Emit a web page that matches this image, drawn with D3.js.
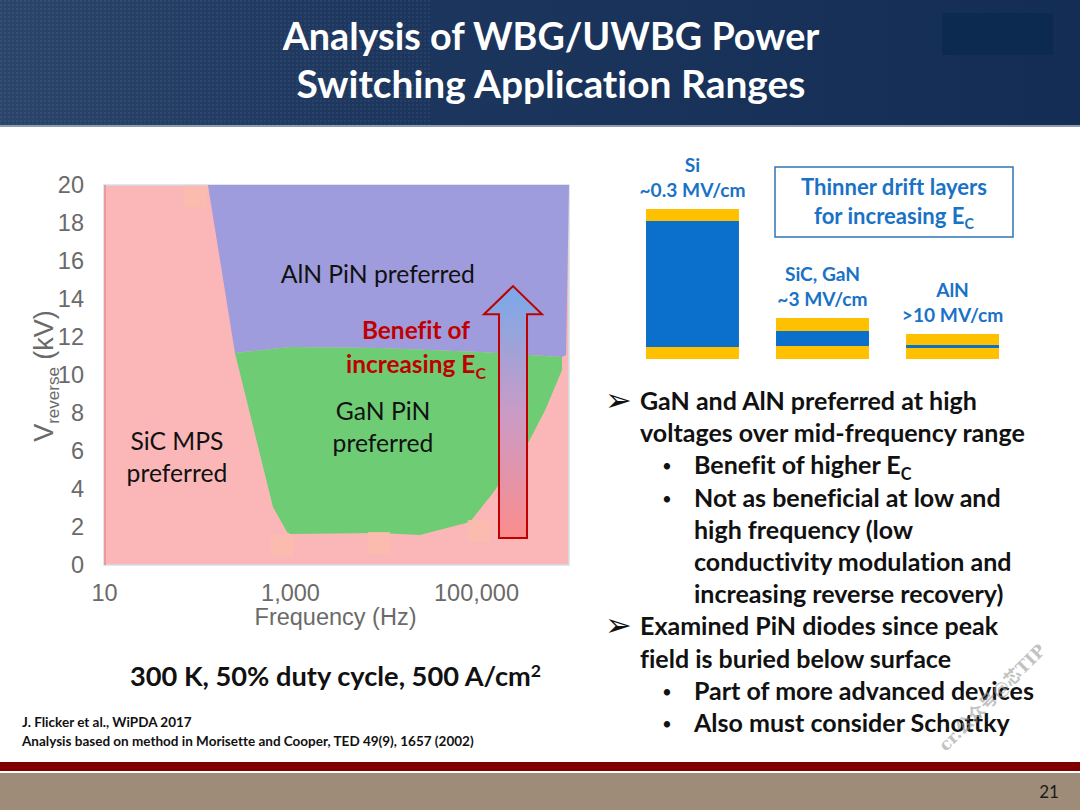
<!DOCTYPE html>
<html><head><meta charset="utf-8">
<script src="https://cdn.jsdelivr.net/npm/d3@7"></script>
<style>body{margin:0;background:#fff}svg{display:block;font-variant-ligatures:none;font-feature-settings:"liga" 0}</style>
</head><body>
<script>
// ---------- data ----------
const titleLines = ["Analysis of WBG/UWBG Power", "Switching Application Ranges"];
const yTickValues = [0, 2, 4, 6, 8, 10, 12, 14, 16, 18, 20];
const xTickValues = [10, 1000, 100000];
const xTickLabels = ["10", "1,000", "100,000"];
const xDomain = [10, 1e6];
const yDomain = [0, 20];
// region boundaries [frequency Hz, V reverse kV]
const alnRegion = [[131, 20], [1e6, 20], [930000, 11.05], [841000, 10.95], [110000, 11.21], [9290, 11.42], [1000, 11.47], [256, 11.16]];
const ganRegion = [[256, 11.16], [1000, 11.47], [9290, 11.42], [110000, 11.21], [841000, 10.95], [841000, 10.26], [560000, 8.2], [353000, 6.3], [152000, 3.79], [86000, 2.26], [25000, 1.58], [9000, 1.68], [1000, 1.63], [929, 1.74], [656, 3.05]];
const markerPoints = [[97, 19.4], [820, 1.05], [9060, 1.16], [107000, 1.79]];
const regionNames = ["AlN PiN preferred", "GaN PiN|preferred", "SiC MPS|preferred"];
const regionLabelF = [8800, 10000, 61];
const regionLabelKV = [14.85, 7.63, 6.05];
const arrowF = 250000, arrowBottomKV = 1.42, arrowHeadKV = 13.2, arrowTipKV = 14.68;
const benefitF = 22600, benefitKV = [11.9, 10.1];
const stackNames = ["Si", "SiC, GaN", "AlN"];
const stackFields = ["~0.3 MV/cm", "~3 MV/cm", ">10 MV/cm"];
const driftThickness = [126, 15, 3];
const contactThickness = [12, 13, 11];
const bulletMarks = ["➢", "", "•", "•", "", "", "", "➢", "", "•", "•"];
const bulletIndent = [0, 0, 1, 1, 1, 1, 1, 0, 0, 1, 1];
const bulletTexts = ["GaN and AlN preferred at high", "voltages over mid-frequency range", "Benefit of higher E|C", "Not as beneficial at low and", "high frequency (low", "conductivity modulation and", "increasing reverse recovery)", "Examined PiN diodes since peak", "field is buried below surface", "Part of more advanced devices", "Also must consider Schottky"];
const conditionText = "300 K, 50% duty cycle, 500 A/cm";
const refLines = ["J. Flicker et al., WiPDA 2017", "Analysis based on method in Morisette and Cooper, TED 49(9), 1657 (2002)"];
const pageNumber = "21";

// ---------- setup ----------
const W = 1080, H = 810;
const svg = d3.select("body").append("svg").attr("width", W).attr("height", H);
const FONT = "Lato, 'Open Sans', sans-serif";
const AX = "'Liberation Sans', Arial, sans-serif";

function fit(str, weight, target) {
  const t = svg.append("text").attr("font-family", FONT).attr("font-weight", weight)
    .attr("font-size", 100).text(str);
  const w = t.node().getComputedTextLength(); t.remove();
  return 100 * target / w;
}

const defs = svg.append("defs");
const hg = defs.append("linearGradient").attr("id", "hdr").attr("x1", 0).attr("x2", 1);
hg.append("stop").attr("offset", 0).attr("stop-color", "#2b4469");
hg.append("stop").attr("offset", 0.35).attr("stop-color", "#1d365e");
hg.append("stop").attr("offset", 1).attr("stop-color", "#142d55");
const dots = defs.append("pattern").attr("id", "dots").attr("width", 4).attr("height", 4).attr("patternUnits", "userSpaceOnUse");
dots.append("rect").attr("width", 2).attr("height", 2).attr("fill", "#ffffff").attr("opacity", 0.05);
const ag = defs.append("linearGradient").attr("id", "arrowGrad").attr("x1", 0).attr("x2", 0).attr("y1", 1).attr("y2", 0);
ag.append("stop").attr("offset", 0).attr("stop-color", "#fb8c8c");
ag.append("stop").attr("offset", 0.5).attr("stop-color", "#c99bc6");
ag.append("stop").attr("offset", 1).attr("stop-color", "#78a9ea");

// ---------- header ----------
svg.append("rect").attr("x", 0).attr("y", 0).attr("width", W).attr("height", 125).attr("fill", "url(#hdr)");
svg.append("rect").attr("x", 0).attr("y", 0).attr("width", 430).attr("height", 125).attr("fill", "url(#dots)");
svg.append("rect").attr("x", 0).attr("y", 125).attr("width", W).attr("height", 2).attr("fill", "#8c9bb0");
svg.append("rect").attr("x", 942).attr("y", 13).attr("width", 111).attr("height", 42).attr("fill", "#0c2a4f");
const titleWidths = [537, 509];
svg.selectAll("text.title").data(titleLines).join("text").attr("class", "title")
  .attr("x", 551).attr("y", (d, i) => 50 + i * 48)
  .attr("text-anchor", "middle").attr("font-family", FONT).attr("font-weight", 700)
  .attr("font-size", (d, i) => fit(d, 700, titleWidths[i])).attr("fill", "#ffffff").text(d => d);

// ---------- chart ----------
const x = d3.scaleLog().domain(xDomain).range([104, 569]);
const y = d3.scaleLinear().domain(yDomain).range([565, 185]);
const plot = svg.append("g");
plot.append("rect").attr("x", x(xDomain[0])).attr("y", y(yDomain[1]))
  .attr("width", x(xDomain[1]) - x(xDomain[0])).attr("height", y(yDomain[0]) - y(yDomain[1]))
  .attr("fill", "#fbb7b7").attr("stroke", "#d3e0e6").attr("stroke-width", 1.5);
plot.append("line").attr("x1", x(xDomain[0]) + 1).attr("x2", x(xDomain[0]) + 1)
  .attr("y1", y(yDomain[1])).attr("y2", y(yDomain[0])).attr("stroke", "#ee8a8a").attr("stroke-width", 1.5);
const line = d3.line().x(d => x(d[0])).y(d => y(d[1]));
plot.append("path").attr("d", line(alnRegion) + "Z").attr("fill", "#9e9cdc");
plot.append("path").attr("d", line(ganRegion) + "Z").attr("fill", "#6dcc74");
plot.selectAll("rect.mk").data(markerPoints).join("rect").attr("class", "mk")
  .attr("x", d => x(d[0]) - 11).attr("y", d => y(d[1]) - 11).attr("width", 22).attr("height", 22)
  .attr("fill", "#fcbcae").attr("opacity", 0.85);

// axes
const yAxis = d3.axisLeft(y).tickValues(yTickValues).tickSize(0).tickPadding(20);
const gy = svg.append("g").attr("transform", `translate(${x(xDomain[0])},0)`).call(yAxis);
const xAxis = d3.axisBottom(x).tickValues(xTickValues).tickSize(0).tickPadding(19)
  .tickFormat((d, i) => xTickLabels[i]);
const gx = svg.append("g").attr("transform", `translate(0,${y(0)})`).call(xAxis);
[gx, gy].forEach(g => {
  g.select(".domain").remove();
  g.selectAll("text").attr("font-family", AX).attr("font-size", 23.5).attr("fill", "#6a6a6a");
});
svg.append("text").attr("x", (x(xDomain[0]) + x(xDomain[1])) / 2 - 1).attr("y", 625)
  .attr("text-anchor", "middle").attr("font-family", AX).attr("font-size", 23.5).attr("fill", "#6a6a6a")
  .text("Frequency  (Hz)");
const yt = svg.append("text").attr("transform", "translate(53,376) rotate(-90)")
  .attr("text-anchor", "middle").attr("font-family", AX).attr("fill", "#6a6a6a").attr("font-size", 27);
yt.append("tspan").text("V");
yt.append("tspan").attr("font-size", 17).attr("dy", 6).text("reverse");
yt.append("tspan").attr("dy", -6).text(" (kV)");

// region labels
const labSize = fit("AlN PiN preferred", 400, 194);
regionNames.forEach((n, i) => {
  n.split("|").forEach((s, j) => {
    svg.append("text").attr("x", x(regionLabelF[i])).attr("y", y(regionLabelKV[i]) + j * 32)
      .attr("text-anchor", "middle").attr("font-family", FONT).attr("font-size", labSize)
      .attr("fill", "#111").text(s);
  });
});

// arrow
const ax = x(arrowF), hw = 14, hh = 29;
const arrowPts = [[ax - hw, y(arrowBottomKV)], [ax - hw, y(arrowHeadKV)], [ax - hh, y(arrowHeadKV)], [ax, y(arrowTipKV)],
  [ax + hh, y(arrowHeadKV)], [ax + hw, y(arrowHeadKV)], [ax + hw, y(arrowBottomKV)]];
svg.append("path").attr("d", d3.line()(arrowPts) + "Z").attr("fill", "url(#arrowGrad)")
  .attr("stroke", "#c00000").attr("stroke-width", 2).attr("stroke-linejoin", "miter");

const benSize = fit("Benefit of", 700, 108);
svg.append("text").attr("x", x(benefitF)).attr("y", y(benefitKV[0])).attr("text-anchor", "middle")
  .attr("font-family", FONT).attr("font-weight", 700).attr("font-size", benSize).attr("fill", "#c00000").text("Benefit of");
const inc = svg.append("text").attr("x", x(benefitF)).attr("y", y(benefitKV[1])).attr("text-anchor", "middle")
  .attr("font-family", FONT).attr("font-weight", 700).attr("font-size", benSize).attr("fill", "#c00000");
inc.append("tspan").text("increasing E");
inc.append("tspan").attr("font-size", benSize * 0.65).attr("dy", 6).text("C");

// ---------- drift layer stacks ----------
const bx = d3.scaleBand().domain(stackNames).range([646, 999]).paddingInner(0.285).paddingOuter(0);
const by = d3.scaleLinear().domain([0, 150]).range([359, 209]);
const stackSize = fit("~0.3 MV/cm", 700, 106);
stackNames.forEach((n, i) => {
  const c = contactThickness[i], dft = driftThickness[i];
  const layers = [[0, c, "#ffc000"], [c, c + dft, "#0a70cc"], [c + dft, 2 * c + dft, "#ffc000"]];
  layers.forEach(L => {
    svg.append("rect").attr("x", bx(n)).attr("width", bx.bandwidth())
      .attr("y", by(L[1])).attr("height", by(L[0]) - by(L[1])).attr("fill", L[2]);
  });
  const top = by(2 * c + dft);
  svg.append("text").attr("x", bx(n) + bx.bandwidth() / 2).attr("y", top - 37).attr("text-anchor", "middle")
    .attr("font-family", FONT).attr("font-weight", 700).attr("font-size", stackSize).attr("fill", "#1a72c6").text(n);
  svg.append("text").attr("x", bx(n) + bx.bandwidth() / 2).attr("y", top - 12).attr("text-anchor", "middle")
    .attr("font-family", FONT).attr("font-weight", 700).attr("font-size", stackSize).attr("fill", "#1a72c6").text(stackFields[i]);
});
svg.append("rect").attr("x", 775).attr("y", 167).attr("width", 238).attr("height", 70)
  .attr("fill", "none").attr("stroke", "#2e75b6").attr("stroke-width", 1.5);
const boxSize = fit("Thinner drift layers", 700, 186);
svg.append("text").attr("x", 894).attr("y", 195).attr("text-anchor", "middle").attr("font-family", FONT)
  .attr("font-weight", 700).attr("font-size", boxSize).attr("fill", "#1a72c6").text("Thinner drift layers");
const bt = svg.append("text").attr("x", 894).attr("y", 224).attr("text-anchor", "middle").attr("font-family", FONT)
  .attr("font-weight", 700).attr("font-size", boxSize).attr("fill", "#1a72c6");
bt.append("tspan").text("for increasing E");
bt.append("tspan").attr("font-size", boxSize * 0.65).attr("dy", 5).text("C");

// ---------- bullets ----------
const bulSize = fit(bulletTexts[1], 700, 385);
bulletTexts.forEach((t, i) => {
  const yy = 410 + i * 32.2;
  const tx = bulletIndent[i] ? 694 : 640;
  if (bulletMarks[i] === "➢") {
    svg.append("text").attr("x", 605).attr("y", yy + 1).attr("font-family", "'DejaVu Sans'")
      .attr("font-size", 32).attr("fill", "#111").text("➢");
  } else if (bulletMarks[i] === "•") {
    svg.append("text").attr("x", 662).attr("y", yy - 2).attr("font-family", FONT)
      .attr("font-size", 17).attr("fill", "#111").text("•");
  }
  const parts = t.split("|");
  const el = svg.append("text").attr("x", tx).attr("y", yy).attr("font-family", FONT).attr("font-weight", 700)
    .attr("font-size", bulSize).attr("fill", "#111");
  el.append("tspan").text(parts[0]);
  if (parts[1]) el.append("tspan").attr("font-size", bulSize * 0.65).attr("dy", 6).text(parts[1]);
});

// ---------- footer ----------
const condSize = fit(conditionText, 700, 401);
const ct = svg.append("text").attr("x", 130).attr("y", 686).attr("font-family", FONT).attr("font-weight", 700)
  .attr("font-size", condSize).attr("fill", "#111");
ct.append("tspan").text(conditionText);
ct.append("tspan").attr("font-size", condSize * 0.65).attr("dy", -9).text("2");
const refSize = fit(refLines[1], 700, 452);
refLines.forEach((r, i) => {
  svg.append("text").attr("x", 22).attr("y", 727 + i * 19).attr("font-family", FONT).attr("font-weight", 700)
    .attr("font-size", refSize).attr("fill", "#111").text(r);
});
svg.append("text").attr("transform", "translate(946,752) rotate(-45)").attr("font-family", "'DejaVu Serif', 'Noto Sans CJK SC'")
  .attr("font-weight", 700).attr("font-size", 17).attr("fill", "#9a9a9a").attr("opacity", 0.6).text("cr.公众号@芯TIP");
svg.append("rect").attr("x", 0).attr("y", 762).attr("width", W).attr("height", 9).attr("fill", "#800000");
svg.append("rect").attr("x", 0).attr("y", 773).attr("width", W).attr("height", 37).attr("fill", "#9e8b78");
svg.append("text").attr("x", 1049).attr("y", 798).attr("text-anchor", "middle").attr("font-family", FONT)
  .attr("font-size", 17).attr("fill", "#1a1a1a").text(pageNumber);
</script>
</body></html>
